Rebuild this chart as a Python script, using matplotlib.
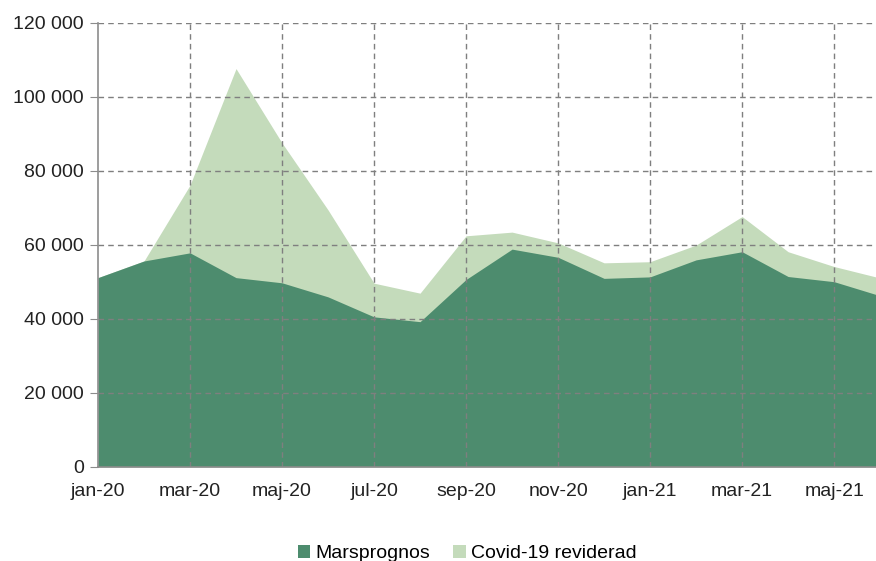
import matplotlib
matplotlib.use("Agg")
import matplotlib.pyplot as plt
from matplotlib.patches import Patch
from matplotlib.ticker import FuncFormatter

months = ["jan-20", "feb-20", "mar-20", "apr-20", "maj-20", "jun-20", "jul-20", "aug-20",
          "sep-20", "okt-20", "nov-20", "dec-20", "jan-21", "feb-21", "mar-21", "apr-21",
          "maj-21", "jun-21"]
marsprognos = [51100, 55600, 57800, 51100, 49700, 45900, 40500, 39200, 50600, 58800,
               56600, 50900, 51300, 55900, 58100, 51400, 50000, 46200]
covid_reviderad = [51100, 55600, 76100, 107600, 87500, 69400, 49600, 46900, 62400, 63400,
                   60500, 55100, 55400, 59900, 67600, 58100, 54100, 51000]
xtick_labels = ["jan-20", "mar-20", "maj-20", "jul-20", "sep-20", "nov-20", "jan-21",
                "mar-21", "maj-21"]
yticks = [0, 20000, 40000, 60000, 80000, 100000, 120000]

dark = "#4d8c6e"
light = "#c4dbbb"

plt.rcParams['font.family'] = ['Liberation Sans', 'DejaVu Sans']

fig = plt.figure(figsize=(8.76, 5.61), dpi=100)
ax = fig.add_axes([98/876, 1-466.7/561, 1-98/876, (466.7-22.7)/561])

x = list(range(len(months)))
ax.fill_between(x, 0, covid_reviderad, color=light, linewidth=0, zorder=1)
ax.fill_between(x, 0, marsprognos, color=dark, linewidth=0, zorder=1.5)

ax.set_xlim(0, 16.91)
ax.set_ylim(0, 120000)
ax.set_yticks(yticks)
ax.yaxis.set_major_formatter(FuncFormatter(lambda v, p: f"{int(v):,}".replace(",", " ")))
tick_pos = [months.index(m) for m in xtick_labels]
ax.set_xticks(tick_pos)
ax.set_xticklabels(xtick_labels)

ax.set_axisbelow(False)
ax.grid(True, color="#7f7f7f", linestyle=(0, (4, 3)), linewidth=1.0, zorder=2)
ax.get_xgridlines()[0].set_visible(False)
ax.get_ygridlines()[0].set_visible(False)

for s in ["top", "right"]:
    ax.spines[s].set_visible(False)
for s in ["left", "bottom"]:
    ax.spines[s].set_color("#8c8c8c")
    ax.spines[s].set_linewidth(1.2)
    ax.spines[s].set_zorder(3)

ax.tick_params(axis="y", length=6, color="#8c8c8c", labelsize=14, labelcolor="#222222", pad=4)
ax.tick_params(axis="x", length=0, labelsize=14, labelcolor="#222222", pad=12)

handles = [Patch(facecolor=dark, edgecolor="none", label="Marsprognos"),
           Patch(facecolor=light, edgecolor="none", label="Covid-19 reviderad")]
fig.legend(handles=handles, loc="lower center", bbox_to_anchor=(0.533, -0.033), ncol=2,
           frameon=False, fontsize=14, handlelength=0.65, handleheight=0.65,
           handletextpad=0.25, columnspacing=1.2)

fig.savefig("out.png", dpi=100)
